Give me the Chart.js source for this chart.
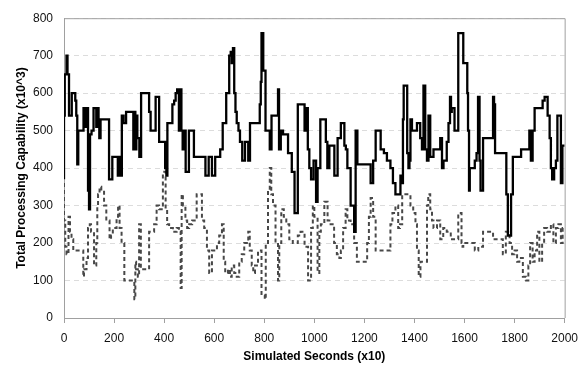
<!DOCTYPE html>
<html>
<head>
<meta charset="utf-8">
<script src="https://cdn.jsdelivr.net/npm/chart.js@4/dist/chart.umd.min.js"></script>
<style>
  html, body { margin: 0; padding: 0; background: #fff; }
  #wrap { width: 586px; height: 371px; }
</style>
</head>
<body>
<div id="wrap"><canvas id="capChart" width="586" height="371"></canvas></div>
<script>
// solid series: time (x10 s) where each level starts, and the level
const solidX = [0, 3, 10, 14, 20, 31, 45, 49, 53, 57, 78, 86, 92, 96, 100, 104, 110, 118, 129, 134,
  138, 141, 146, 180, 193, 215, 222, 226, 231, 238, 248, 277, 281, 285, 289, 293, 301, 308, 340, 346,
  366, 380, 404, 409, 413, 433, 440, 446, 452, 459, 465, 469, 474, 478, 486, 499, 519, 565, 578, 591,
  604, 624, 634, 648, 660, 666, 670, 675, 680, 685, 690, 697, 703, 712, 723, 736, 743, 782, 786, 789,
  796, 805, 822, 829, 855, 859, 866, 875, 895, 910, 921, 934, 961, 966, 974, 980, 987, 997, 1007, 1013,
  1024, 1046, 1052, 1060, 1080, 1093, 1106, 1120, 1126, 1132, 1145, 1159, 1165, 1172, 1225, 1235, 1245, 1265, 1278, 1290,
  1304, 1314, 1324, 1344, 1350, 1354, 1357, 1371, 1376, 1380, 1384, 1390, 1410, 1423, 1430, 1436, 1443, 1450, 1456, 1463,
  1476, 1503, 1510, 1516, 1529, 1536, 1542, 1546, 1549, 1560, 1575, 1595, 1611, 1614, 1618, 1621, 1641, 1648, 1654, 1660,
  1664, 1674, 1714, 1718, 1722, 1767, 1773, 1786, 1793, 1826, 1859, 1865, 1872, 1880, 1912, 1920, 1932, 1940, 1945, 1950,
  1958, 1965, 1971, 1985, 1991, 1995, 2000];
const solidY = [370, 540, 650, 700, 650, 540, 600, 580, 540, 410, 500, 560, 510, 560, 340, 290, 490, 500, 560, 510,
  560, 530, 480, 530, 370, 430, 380, 430, 380, 540, 520, 550, 450, 550, 450, 540, 480, 430, 600, 550,
  500, 590, 470, 400, 380, 520, 570, 580, 600, 610, 500, 610, 500, 450, 500, 390, 500, 430, 380, 430,
  380, 430, 450, 520, 600, 700, 710, 680, 720, 600, 550, 520, 500, 470, 420, 470, 420, 520, 570, 630,
  760, 660, 500, 450, 540, 610, 450, 500, 490, 440, 390, 280, 570, 500, 560, 450, 400, 370, 420, 310,
  400, 530, 470, 400, 460, 380, 480, 520, 460, 450, 400, 300, 230, 500, 410, 360, 420, 500, 450, 440,
  420, 400, 360, 330, 380, 360, 530, 620, 440, 400, 420, 530, 500, 520, 480, 450, 620, 450, 420, 540,
  430, 450, 480, 400, 420, 470, 520, 590, 550, 560, 500, 760, 680, 600, 500, 340, 400, 420, 440, 590,
  420, 340, 480, 590, 570, 440, 330, 220, 330, 430, 450, 500, 420, 500, 560, 580, 590, 540, 480, 400,
  370, 400, 420, 540, 360, 460, 460];

// dashed series
const dashX = [0, 5, 10, 18, 24, 30, 37, 77, 80, 90, 96, 103, 108, 120, 129, 133, 136, 142, 149, 160,
  169, 182, 188, 195, 210, 216, 222, 230, 241, 281, 285, 288, 295, 300, 307, 340, 360, 370, 380, 395,
  406, 412, 420, 435, 450, 459, 466, 470, 475, 485, 492, 500, 512, 530, 551, 560, 571, 580, 591, 611,
  620, 631, 638, 644, 655, 663, 670, 680, 690, 700, 710, 720, 736, 742, 750, 756, 763, 775, 789, 802,
  806, 815, 822, 828, 835, 845, 855, 860, 868, 878, 888, 900, 914, 934, 945, 961, 975, 987, 994, 1000,
  1013, 1020, 1026, 1040, 1053, 1065, 1079, 1090, 1100, 1106, 1115, 1125, 1132, 1145, 1159, 1170, 1211, 1218, 1225, 1235,
  1245, 1304, 1312, 1324, 1335, 1342, 1351, 1384, 1395, 1404, 1410, 1417, 1424, 1450, 1455, 1463, 1470, 1476, 1490, 1503,
  1515, 1529, 1545, 1575, 1588, 1592, 1595, 1641, 1655, 1674, 1714, 1753, 1765, 1780, 1790, 1800, 1810, 1819, 1833, 1846,
  1855, 1862, 1872, 1880, 1890, 1899, 1910, 1918, 1930, 1945, 1955, 1965, 1975, 1985, 1992, 1996, 2000];
const dashY = [360, 260, 190, 170, 270, 230, 210, 180, 110, 130, 160, 240, 250, 230, 140, 200, 300, 330, 350, 340,
  300, 260, 210, 220, 240, 270, 300, 240, 200, 100, 50, 150, 130, 110, 250, 130, 230, 250, 300, 290,
  390, 290, 250, 240, 230, 240, 230, 80, 330, 300, 260, 240, 250, 260, 330, 260, 240, 180, 120, 180,
  200, 220, 250, 150, 120, 130, 110, 140, 120, 110, 150, 170, 200, 230, 180, 140, 120, 140, 180, 60,
  50, 200, 340, 400, 330, 300, 200, 100, 200, 290, 270, 250, 210, 200, 220, 230, 190, 100, 240, 300,
  270, 120, 230, 250, 310, 260, 250, 200, 170, 160, 180, 240, 290, 260, 250, 200, 150, 200, 270, 320,
  270, 180, 250, 280, 300, 240, 250, 330, 300, 280, 250, 180, 110, 150, 300, 330, 290, 260, 240, 260,
  210, 240, 230, 210, 280, 200, 190, 200, 180, 190, 230, 210, 170, 230, 200, 170, 180, 150, 160, 110,
  100, 140, 200, 150, 180, 230, 150, 200, 240, 230, 250, 200, 240, 250, 200, 240, 240];

const X_TICKS = [0, 200, 400, 600, 800, 1000, 1200, 1400, 1600, 1800, 2000];
const Y_TICKS = [0, 100, 200, 300, 400, 500, 600, 700, 800];

const FONT = "'Liberation Sans', Arial, Helvetica, sans-serif";
const FRAME = "#a0a0a0";

const toPoints = (xs, ys) => xs.map((x, i) => ({ x: x, y: ys[i] }));

// top and right edges of the plot box
const frameBox = {
  id: "frameBox",
  beforeDatasetsDraw(chart) {
    const { ctx, chartArea: a } = chart;
    ctx.save();
    ctx.strokeStyle = FRAME;
    ctx.lineWidth = 1;
    ctx.beginPath();
    ctx.moveTo(a.left, a.top + 0.5);
    ctx.lineTo(a.right + 0.5, a.top + 0.5);
    ctx.lineTo(a.right + 0.5, a.bottom);
    ctx.stroke();
    ctx.restore();
  },
};

new Chart(document.getElementById("capChart"), {
  type: "line",
  data: {
    datasets: [
      {
        label: "solid",
        data: toPoints(solidX, solidY),
        borderColor: "#000000",
        borderWidth: 2.3,
        stepped: "after",
        pointRadius: 0,
        fill: false,
      },
      {
        label: "dashed",
        data: toPoints(dashX, dashY),
        borderColor: "#484848",
        borderWidth: 2,
        borderDash: [4, 3],
        stepped: "after",
        pointRadius: 0,
        fill: false,
      },
    ],
  },
  options: {
    responsive: false,
    animation: false,
    layout: { padding: { top: 12, right: 17, left: 0, bottom: 0 } },
    plugins: {
      legend: { display: false },
      tooltip: { enabled: false },
    },
    scales: {
      x: {
        type: "linear",
        min: 0,
        max: 2000,
        afterBuildTicks: (s) => { s.ticks = X_TICKS.map((v) => ({ value: v })); },
        afterFit: (s) => { s.height = 53; },
        ticks: {
          color: "#111",
          font: { size: 12, family: FONT },
          padding: 8,
          maxRotation: 0,
          callback: (v) => String(v),
        },
        grid: {
          drawOnChartArea: false,
          drawTicks: true,
          tickLength: 5,
          tickColor: FRAME,
        },
        border: { color: FRAME, width: 1 },
        title: {
          display: true,
          text: "Simulated Seconds (x10)",
          color: "#000",
          font: { size: 12, weight: "bold", family: FONT },
          padding: { top: 0, bottom: 7 },
        },
      },
      y: {
        min: 0,
        max: 800,
        afterBuildTicks: (s) => { s.ticks = Y_TICKS.map((v) => ({ value: v })); },
        afterFit: (s) => { s.width = 64; },
        ticks: {
          color: "#111",
          font: { size: 12, family: FONT },
          padding: 11,
          callback: (v) => String(v),
        },
        grid: {
          color: "#dcdcdc",
          drawTicks: false,
        },
        border: { color: FRAME, width: 1, dash: [5, 4] },
        title: {
          display: true,
          text: "Total Processing Capability (x10^3)",
          color: "#000",
          font: { size: 12, weight: "bold", family: FONT },
          padding: { top: 14, bottom: 0 },
        },
      },
    },
  },
  plugins: [frameBox],
});
</script>
</body>
</html>
